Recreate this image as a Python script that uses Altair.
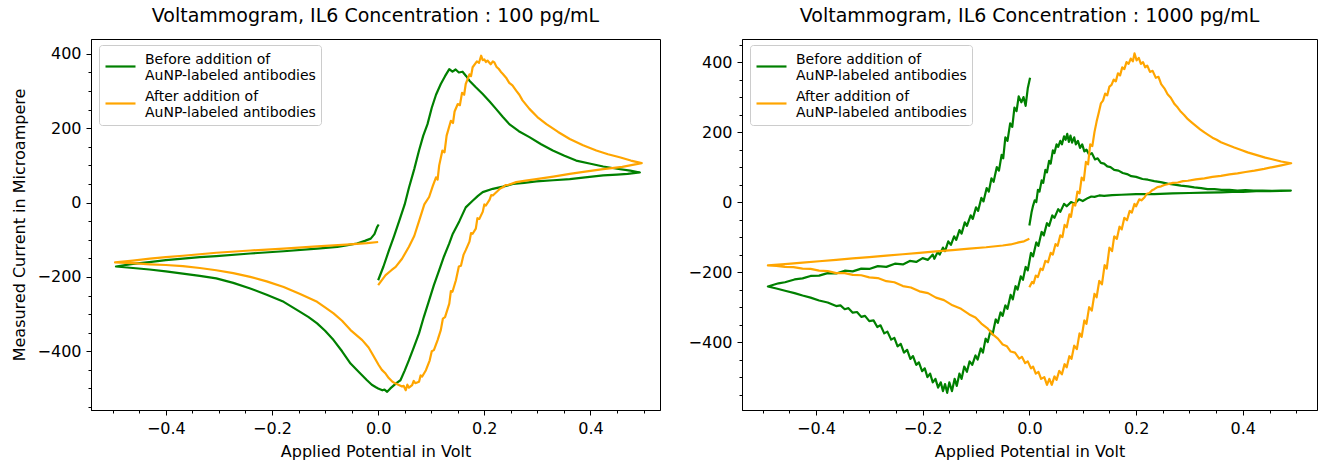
import altair as alt
import pandas as pd

SERIES = ["Before addition of|AuNP-labeled antibodies", "After addition of|AuNP-labeled antibodies"]
COLORS = ["#008000", "#ffa500"]
TITLES = ["Voltammogram, IL6 Concentration : 100 pg/mL", "Voltammogram, IL6 Concentration : 1000 pg/mL"]
X_TICKS = [-0.4, -0.2, 0.0, 0.2, 0.4]
Y_TICKS = [-400, -200, 0, 200, 400]
X_MINOR = [-0.5, -0.45, -0.35, -0.3, -0.25, -0.15, -0.1, -0.05, 0.05, 0.1, 0.15, 0.25, 0.3, 0.35, 0.45, 0.5]
Y_MINOR = [-550, -500, -450, -350, -300, -250, -150, -100, -50, 50, 100, 150, 250, 300, 350, 450]

# Left panel (100 pg/mL): (potential V, current uA) in scan order
left_before = [
    (0.000, -209), (0.010, -172), (0.020, -130), (0.030, -90), (0.040, -48), (0.050, -5),
    (0.058, 40), (0.068, 90), (0.077, 140), (0.085, 180), (0.093, 211), (0.101, 255),
    (0.109, 290), (0.118, 319), (0.126, 340), (0.134, 359), (0.140, 352), (0.146, 358),
    (0.152, 350), (0.159, 352), (0.166, 340), (0.172, 328), (0.184, 310), (0.197, 292),
    (0.210, 272), (0.222, 252), (0.235, 230), (0.247, 211), (0.265, 192), (0.285, 176),
    (0.307, 157), (0.329, 140), (0.351, 126), (0.373, 113), (0.398, 105), (0.424, 97),
    (0.450, 91), (0.475, 86), (0.493, 81),
    (0.470, 77), (0.450, 75), (0.424, 73), (0.390, 68), (0.361, 63), (0.330, 60),
    (0.298, 57), (0.275, 53), (0.254, 50), (0.235, 43), (0.216, 37), (0.197, 28),
    (0.188, 18), (0.178, 5), (0.165, -13), (0.153, -50), (0.140, -86), (0.134, -110),
    (0.124, -145), (0.115, -182), (0.105, -222), (0.096, -263), (0.086, -308), (0.077, -352),
    (0.067, -390), (0.058, -424), (0.050, -452), (0.042, -478), (0.035, -485), (0.030, -491),
    (0.023, -500), (0.017, -509), (0.012, -503), (0.008, -505), (0.000, -500), (-0.005, -496),
    (-0.012, -490), (-0.021, -478), (-0.035, -458), (-0.052, -433), (-0.068, -400), (-0.084, -370),
    (-0.100, -345), (-0.115, -325), (-0.131, -308), (-0.147, -294), (-0.178, -267), (-0.210, -248),
    (-0.241, -231), (-0.273, -216), (-0.305, -204), (-0.336, -197), (-0.368, -191), (-0.400, -185),
    (-0.431, -180), (-0.462, -176), (-0.494, -172),
    (-0.462, -165), (-0.431, -160), (-0.400, -155), (-0.368, -151), (-0.336, -147), (-0.305, -144),
    (-0.241, -137), (-0.178, -131), (-0.115, -124), (-0.077, -119), (-0.060, -115), (-0.040, -110),
    (-0.025, -103), (-0.014, -97), (-0.007, -85), (-0.002, -66), (0.001, -59),
]
left_after = [
    (0.000, -222), (0.014, -195), (0.025, -182), (0.033, -173), (0.045, -151), (0.058, -119),
    (0.068, -90), (0.077, -50), (0.087, -5), (0.096, 15), (0.103, 45), (0.109, 68), (0.112, 62),
    (0.115, 100), (0.121, 140), (0.125, 135), (0.129, 180), (0.137, 220), (0.141, 214),
    (0.144, 245), (0.150, 265), (0.154, 262), (0.158, 295), (0.162, 290), (0.165, 319),
    (0.172, 345), (0.175, 340), (0.178, 364), (0.186, 380), (0.190, 376), (0.194, 395),
    (0.197, 383), (0.200, 385), (0.203, 378), (0.206, 382), (0.212, 372), (0.216, 380),
    (0.219, 377), (0.223, 365), (0.227, 360), (0.231, 352), (0.235, 346), (0.241, 336),
    (0.247, 322), (0.253, 315), (0.260, 301), (0.266, 290), (0.272, 275), (0.285, 252),
    (0.300, 230), (0.317, 211), (0.339, 190), (0.361, 171), (0.386, 154), (0.411, 140),
    (0.433, 130), (0.455, 122), (0.476, 113), (0.4965, 106),
    (0.460, 96), (0.424, 90), (0.390, 83), (0.361, 77), (0.330, 70), (0.298, 63),
    (0.278, 59), (0.260, 55), (0.246, 48), (0.240, 47), (0.235, 41), (0.230, 38), (0.225, 31),
    (0.216, 19), (0.213, 20), (0.210, 8), (0.203, -8), (0.200, -5), (0.197, -25),
    (0.1905, -44), (0.187, -42), (0.184, -70), (0.178, -84), (0.175, -82), (0.172, -105),
    (0.165, -128), (0.161, -140), (0.156, -170), (0.152, -172), (0.1465, -209), (0.140, -240),
    (0.137, -238), (0.134, -272), (0.126, -308), (0.122, -312), (0.118, -343), (0.112, -370),
    (0.105, -397), (0.101, -400), (0.097, -425), (0.090, -451), (0.083, -468), (0.080, -465),
    (0.077, -482), (0.070, -486), (0.067, -480), (0.064, -491), (0.058, -498), (0.055, -490),
    (0.052, -505), (0.048, -493), (0.045, -495), (0.039, -491), (0.033, -487), (0.027, -482),
    (0.020, -472), (0.014, -460), (0.007, -450), (0.001, -437), (-0.009, -412), (-0.018, -390),
    (-0.030, -370), (-0.052, -343), (-0.068, -318), (-0.084, -298), (-0.100, -282), (-0.115, -267),
    (-0.147, -246), (-0.178, -227), (-0.210, -212), (-0.241, -200), (-0.273, -190), (-0.305, -182),
    (-0.336, -176), (-0.368, -171), (-0.400, -168), (-0.430, -166), (-0.462, -163), (-0.4957, -161),
    (-0.462, -156), (-0.430, -151), (-0.400, -147), (-0.368, -143), (-0.305, -135), (-0.241, -129),
    (-0.178, -124), (-0.115, -118), (-0.060, -113), (-0.021, -109), (0.000, -106),
]

# Right panel (1000 pg/mL)
right_before = [
    (0.000, -67), (0.004, -30), (0.007, -10), (0.010, 5), (0.013, 0), (0.016, 35), (0.019, 30),
    (0.023, 62), (0.026, 55), (0.030, 92), (0.033, 85), (0.037, 118), (0.040, 110), (0.044, 148),
    (0.047, 140), (0.051, 165), (0.054, 158), (0.058, 175), (0.061, 165), (0.065, 188),
    (0.068, 178), (0.071, 195), (0.074, 172), (0.077, 190), (0.080, 170), (0.084, 185),
    (0.087, 165), (0.091, 175), (0.095, 155), (0.099, 165), (0.103, 145), (0.107, 150),
    (0.112, 135), (0.117, 140), (0.123, 122), (0.128, 125), (0.134, 112), (0.140, 110),
    (0.146, 102), (0.152, 100), (0.159, 92), (0.167, 90), (0.175, 83), (0.183, 80), (0.191, 74),
    (0.200, 72), (0.212, 66), (0.222, 64), (0.234, 60), (0.246, 57), (0.259, 53), (0.272, 50),
    (0.284, 47), (0.297, 45), (0.309, 42), (0.322, 40), (0.334, 37), (0.347, 37), (0.360, 35),
    (0.375, 35), (0.390, 33), (0.405, 34), (0.420, 33), (0.437, 33), (0.455, 32), (0.472, 33),
    (0.490, 33),
    (0.470, 32), (0.450, 31), (0.425, 31), (0.400, 29), (0.380, 29), (0.359, 28), (0.330, 27),
    (0.300, 26), (0.268, 25), (0.234, 23), (0.200, 23), (0.172, 21), (0.155, 20), (0.140, 18),
    (0.131, 19), (0.122, 15), (0.116, 16), (0.110, 12), (0.100, 3), (0.093, 8), (0.085, -5),
    (0.078, 0), (0.070, -12), (0.065, -5), (0.058, -28), (0.054, -20), (0.047, -45), (0.043, -38),
    (0.037, -68), (0.033, -60), (0.027, -95), (0.023, -85), (0.017, -125), (0.013, -115),
    (0.007, -155), (0.003, -145), (-0.003, -195), (-0.007, -185), (-0.012, -222), (-0.016, -212),
    (-0.022, -250), (-0.026, -240), (-0.031, -278), (-0.035, -265), (-0.041, -305), (-0.045, -295),
    (-0.050, -325), (-0.054, -315), (-0.059, -345), (-0.063, -335), (-0.069, -378), (-0.073, -368),
    (-0.078, -400), (-0.082, -390), (-0.087, -430), (-0.091, -418), (-0.097, -450), (-0.101, -438),
    (-0.107, -465), (-0.112, -455), (-0.117, -485), (-0.122, -470), (-0.127, -505), (-0.131, -490),
    (-0.136, -525), (-0.140, -505), (-0.145, -540), (-0.150, -515), (-0.154, -545), (-0.158, -520),
    (-0.162, -540), (-0.166, -515), (-0.171, -530), (-0.176, -505), (-0.181, -515), (-0.186, -490),
    (-0.191, -500), (-0.196, -475), (-0.201, -483), (-0.207, -458), (-0.212, -465), (-0.218, -440),
    (-0.223, -448), (-0.229, -422), (-0.235, -430), (-0.241, -405), (-0.247, -412), (-0.253, -388),
    (-0.259, -393), (-0.266, -370), (-0.272, -375), (-0.279, -352), (-0.285, -357), (-0.292, -338),
    (-0.300, -340), (-0.308, -325), (-0.315, -328), (-0.323, -314), (-0.331, -316), (-0.339, -303),
    (-0.346, -306), (-0.354, -295), (-0.362, -297), (-0.378, -287), (-0.394, -281), (-0.410, -273),
    (-0.425, -267), (-0.440, -260), (-0.456, -254), (-0.474, -247), (-0.490, -241),
    (-0.470, -232), (-0.458, -229), (-0.440, -221), (-0.425, -218), (-0.410, -211), (-0.394, -210),
    (-0.378, -203), (-0.362, -204), (-0.346, -196), (-0.331, -198), (-0.315, -190), (-0.300, -191),
    (-0.284, -183), (-0.268, -185), (-0.252, -176), (-0.237, -178), (-0.224, -168), (-0.212, -171),
    (-0.200, -160), (-0.190, -165), (-0.181, -150), (-0.178, -162), (-0.172, -143), (-0.168, -150),
    (-0.162, -130), (-0.158, -140), (-0.152, -112), (-0.147, -122), (-0.141, -98), (-0.137, -108),
    (-0.131, -80), (-0.127, -90), (-0.121, -58), (-0.117, -68), (-0.110, -38), (-0.106, -48),
    (-0.100, -15), (-0.096, -25), (-0.090, 12), (-0.086, 2), (-0.080, 40), (-0.076, 30),
    (-0.071, 68), (-0.067, 58), (-0.061, 100), (-0.057, 90), (-0.052, 135), (-0.049, 125),
    (-0.045, 185), (-0.041, 175), (-0.036, 225), (-0.032, 215), (-0.028, 270), (-0.024, 260),
    (-0.020, 302), (-0.015, 285), (-0.011, 300), (-0.007, 275), (-0.003, 325), (0.0013, 355),
]
right_after = [
    (0.000, -243), (0.005, -228), (0.008, -232), (0.012, -210), (0.016, -214), (0.021, -190),
    (0.025, -194), (0.030, -168), (0.035, -172), (0.040, -145), (0.044, -150), (0.049, -120),
    (0.053, -125), (0.058, -95), (0.062, -100), (0.066, -65), (0.070, -72), (0.075, -35),
    (0.078, -42), (0.082, -5), (0.086, -10), (0.090, 30), (0.094, 25), (0.098, 70), (0.102, 62),
    (0.106, 115), (0.110, 108), (0.114, 165), (0.118, 160), (0.122, 200), (0.126, 230),
    (0.130, 255), (0.134, 282), (0.138, 290), (0.142, 310), (0.146, 305), (0.150, 330),
    (0.154, 335), (0.158, 350), (0.162, 345), (0.166, 368), (0.170, 362), (0.174, 385),
    (0.178, 380), (0.182, 400), (0.186, 395), (0.190, 410), (0.194, 402), (0.197, 425),
    (0.201, 405), (0.205, 412), (0.209, 395), (0.213, 400), (0.217, 385), (0.221, 390),
    (0.226, 372), (0.231, 375), (0.237, 355), (0.242, 358), (0.247, 337), (0.253, 325),
    (0.259, 308), (0.265, 298), (0.272, 280), (0.278, 270), (0.284, 258), (0.290, 249),
    (0.297, 237), (0.304, 228), (0.312, 218), (0.320, 208), (0.328, 199), (0.335, 192),
    (0.343, 184), (0.351, 178), (0.359, 171), (0.372, 163), (0.384, 156), (0.397, 149),
    (0.409, 142), (0.420, 137), (0.431, 132), (0.442, 127), (0.453, 123), (0.472, 116),
    (0.4906, 111),
    (0.472, 105), (0.456, 100), (0.440, 95), (0.4218, 90), (0.405, 86), (0.390, 82), (0.375, 79),
    (0.359, 75), (0.343, 72), (0.328, 68), (0.312, 65), (0.297, 61), (0.288, 60), (0.278, 56),
    (0.269, 55), (0.259, 51), (0.253, 49), (0.247, 45), (0.240, 43), (0.234, 37), (0.230, 34),
    (0.225, 26), (0.220, 24), (0.2156, 13), (0.210, 5), (0.206, 8), (0.200, -12), (0.197, -5),
    (0.192, -30), (0.188, -25), (0.183, -52), (0.178, -45), (0.173, -78), (0.169, -70),
    (0.164, -105), (0.159, -98), (0.155, -140), (0.150, -130), (0.145, -190), (0.141, -180),
    (0.136, -235), (0.131, -225), (0.126, -272), (0.122, -262), (0.117, -310), (0.112, -300),
    (0.107, -348), (0.103, -338), (0.098, -385), (0.094, -375), (0.089, -420), (0.084, -410),
    (0.079, -448), (0.075, -440), (0.070, -472), (0.066, -463), (0.061, -492), (0.056, -482),
    (0.051, -508), (0.047, -498), (0.042, -522), (0.0375, -505), (0.033, -522), (0.028, -500),
    (0.022, -505), (0.017, -485), (0.012, -490), (0.007, -470), (0.003, -475), (-0.003, -455),
    (-0.008, -460), (-0.014, -442), (-0.019, -447), (-0.027, -430), (-0.035, -427), (-0.042, -412),
    (-0.050, -407), (-0.059, -390), (-0.0686, -378), (-0.079, -360), (-0.090, -347), (-0.101, -330),
    (-0.1125, -321), (-0.128, -305), (-0.144, -295), (-0.160, -280), (-0.175, -273), (-0.190, -260),
    (-0.206, -255), (-0.222, -244), (-0.237, -240), (-0.253, -229), (-0.268, -226), (-0.284, -217),
    (-0.300, -215), (-0.315, -209), (-0.331, -208), (-0.346, -203), (-0.362, -203), (-0.378, -197),
    (-0.394, -196), (-0.410, -191), (-0.425, -190), (-0.442, -186), (-0.458, -185), (-0.474, -182),
    (-0.490, -181),
    (-0.458, -177), (-0.425, -173), (-0.394, -169), (-0.362, -165), (-0.331, -161), (-0.300, -157),
    (-0.268, -153), (-0.237, -149), (-0.206, -145), (-0.175, -141), (-0.144, -137), (-0.1125, -133),
    (-0.081, -129), (-0.050, -124), (-0.035, -121), (-0.020, -115), (-0.010, -112), (0.000, -105),
]

FONT = "DejaVu Sans"


def to_df(before, after):
    rows = []
    for name, pts in ((SERIES[0], before), (SERIES[1], after)):
        for k, (v, cur) in enumerate(pts):
            rows.append({"v": v, "I": cur, "series": name, "k": k})
    return pd.DataFrame(rows)


def panel(before, after, title, xdom, ydom, w, h, ytitle):
    df = to_df(before, after)
    xs = alt.Scale(domain=xdom, nice=False, zero=False)
    ys = alt.Scale(domain=ydom, nice=False, zero=False)
    lines = alt.Chart(df).mark_line(strokeWidth=2.2, strokeJoin="round").encode(
        x=alt.X("v:Q", scale=xs, axis=alt.Axis(values=X_TICKS, format=".1f",
                                               title="Applied Potential in Volt", titlePadding=7)),
        y=alt.Y("I:Q", scale=ys, axis=alt.Axis(values=Y_TICKS, format="d",
                                               title=ytitle if ytitle else None, titlePadding=10)),
        color=alt.Color("series:N", scale=alt.Scale(domain=SERIES, range=COLORS),
                        legend=alt.Legend(title=None, orient="none", legendX=8, legendY=6,
                                          labelExpr="split(datum.label, '|')",
                                          labelBaseline="bottom",
                                          symbolType="stroke", symbolSize=900, symbolStrokeWidth=2.2,
                                          labelFontSize=14, labelFont=FONT, labelColor="black",
                                          labelLimit=400, labelOffset=8, rowPadding=4,
                                          padding=5, strokeColor="#cccccc", fillColor="white",
                                          cornerRadius=3)),
        order="k:Q",
    )
    minor = alt.Chart(df).mark_point(opacity=0).encode(
        x=alt.X("v:Q", scale=xs, axis=alt.Axis(orient="bottom", values=X_MINOR, labels=False,
                                               tickSize=3, domain=False, title=None)),
        y=alt.Y("I:Q", scale=ys, axis=alt.Axis(orient="left", values=Y_MINOR, labels=False,
                                               tickSize=3, domain=False, title=None)),
    )
    return alt.layer(lines, minor).resolve_axis(x="independent", y="independent").properties(
        width=w, height=h,
        title=alt.TitleParams(title, fontSize=19, font=FONT, fontWeight="normal",
                              color="black", offset=13, anchor="middle"),
    )


left = panel(left_before, left_after, TITLES[0], [-0.541, 0.531], [-558, 440], 569, 371,
             "Measured Current in Microampere")
right = panel(right_before, right_after, TITLES[1], [-0.5385, 0.539], [-594, 466], 575, 371, None)

chart = alt.hconcat(left, right, spacing=26).resolve_legend(color="independent").resolve_scale(
    color="independent"
).configure_view(stroke="black", strokeWidth=1).configure_axis(
    labelFont=FONT, labelFontSize=16, labelColor="black", labelPadding=5,
    titleFont=FONT, titleFontSize=16, titleFontWeight="normal", titleColor="black",
    tickColor="black", tickSize=5, domainColor="black", grid=False,
).properties(
    padding={"left": 10, "top": 6, "right": 2, "bottom": 0}, background="white"
)

chart.save("out.html", embed_options={"renderer": "svg", "actions": False})
